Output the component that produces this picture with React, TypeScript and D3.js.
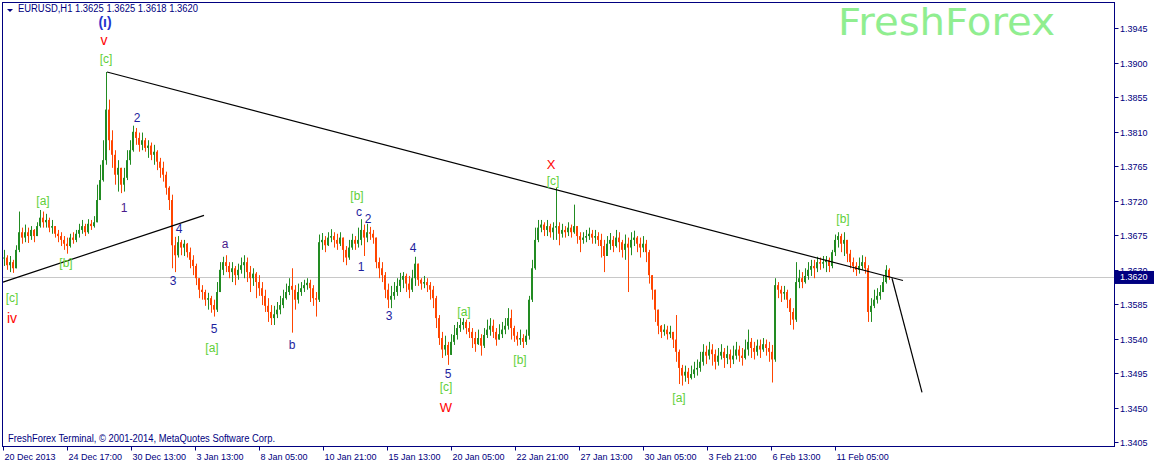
import { useEffect, useRef } from 'react'
import * as d3 from 'd3'

// EURUSD H1, 20 Dec 2013 - 13 Feb 2014.
// One candle here stands for 3 hourly bars; prices are stored as price x 10000.
const HOURS_PER_CANDLE = 3
const FIRST_OPEN = 13645

const highs = [
  13656, 13649, 13648, 13643, 13662, 13706, 13685, 13689, 13685, 13687, 13683, 13692,
  13708, 13706, 13703, 13698, 13695, 13687, 13682, 13679, 13674, 13672, 13677, 13679,
  13682, 13690, 13695, 13690, 13696, 13695, 13700, 13741, 13767, 13799, 13888, 13852,
  13812, 13786, 13773, 13760, 13763, 13786, 13799, 13818, 13815, 13809, 13809, 13802,
  13799, 13796, 13793, 13786, 13776, 13771, 13758, 13739, 13728, 13673, 13674, 13669,
  13669, 13665, 13659, 13649, 13638, 13619, 13610, 13604, 13600, 13596, 13591, 13614,
  13640, 13647, 13649, 13640, 13640, 13635, 13638, 13646, 13649, 13646, 13635, 13632,
  13627, 13623, 13614, 13604, 13593, 13584, 13583, 13588, 13596, 13604, 13612, 13619,
  13632, 13610, 13612, 13614, 13617, 13619, 13617, 13610, 13601, 13676, 13678, 13674,
  13679, 13683, 13679, 13677, 13679, 13672, 13661, 13669, 13677, 13674, 13685, 13696,
  13689, 13690, 13686, 13682, 13672, 13646, 13640, 13627, 13612, 13609, 13614, 13619,
  13626, 13627, 13625, 13622, 13630, 13647, 13630, 13619, 13622, 13619, 13614, 13609,
  13596, 13571, 13549, 13544, 13536, 13546, 13558, 13562, 13567, 13567, 13565, 13562,
  13554, 13549, 13552, 13546, 13554, 13565, 13567, 13565, 13554, 13559, 13562, 13567,
  13580, 13578, 13557, 13549, 13552, 13546, 13552, 13596, 13643, 13685, 13695, 13695,
  13692, 13695, 13690, 13692, 13737, 13692, 13690, 13687, 13692, 13689, 13715, 13687,
  13679, 13679, 13682, 13685, 13682, 13682, 13679, 13677, 13669, 13674, 13678, 13674,
  13682, 13679, 13669, 13676, 13672, 13679, 13681, 13674, 13672, 13674, 13669, 13656,
  13623, 13604, 13575, 13558, 13559, 13557, 13557, 13549, 13571, 13526, 13506, 13505,
  13502, 13505, 13510, 13513, 13523, 13533, 13531, 13536, 13533, 13526, 13528, 13533,
  13528, 13531, 13526, 13531, 13536, 13531, 13528, 13539, 13552, 13541, 13536, 13539,
  13539, 13541, 13539, 13536, 13532, 13619, 13614, 13609, 13609, 13604, 13593, 13580,
  13640, 13630, 13627, 13632, 13640, 13643, 13643, 13647, 13646, 13648, 13648, 13646,
  13656, 13676, 13679, 13677, 13679, 13669, 13656, 13646, 13640, 13646, 13649, 13647,
  13636, 13593, 13604, 13606, 13610, 13622, 13636, 13632
]

const lows = [
  13635, 13630, 13627, 13626, 13632, 13653, 13664, 13666, 13665, 13669, 13666, 13674,
  13685, 13685, 13685, 13679, 13677, 13672, 13666, 13661, 13656, 13651, 13659, 13664,
  13666, 13672, 13677, 13674, 13677, 13682, 13685, 13692, 13721, 13745, 13767, 13786,
  13763, 13741, 13732, 13730, 13732, 13747, 13767, 13784, 13793, 13784, 13786, 13784,
  13776, 13773, 13767, 13760, 13750, 13745, 13728, 13708, 13632, 13627, 13646, 13649,
  13648, 13646, 13632, 13623, 13610, 13593, 13591, 13583, 13578, 13574, 13569, 13575,
  13601, 13623, 13627, 13619, 13614, 13610, 13617, 13625, 13619, 13614, 13601, 13609,
  13593, 13596, 13584, 13575, 13562, 13558, 13558, 13567, 13572, 13580, 13591, 13597,
  13548, 13578, 13586, 13596, 13601, 13604, 13588, 13583, 13569, 13588, 13656, 13653,
  13661, 13666, 13659, 13656, 13661, 13640, 13636, 13643, 13656, 13656, 13659, 13662,
  13648, 13666, 13669, 13664, 13632, 13619, 13614, 13593, 13580, 13580, 13591, 13596,
  13601, 13606, 13601, 13593, 13601, 13609, 13609, 13604, 13606, 13601, 13591, 13580,
  13554, 13532, 13515, 13518, 13506, 13523, 13532, 13539, 13549, 13552, 13546, 13541,
  13528, 13523, 13532, 13518, 13528, 13541, 13544, 13541, 13531, 13539, 13541, 13546,
  13552, 13539, 13536, 13531, 13532, 13528, 13532, 13539, 13588, 13630, 13666, 13679,
  13674, 13674, 13672, 13669, 13669, 13662, 13672, 13672, 13674, 13672, 13677, 13664,
  13653, 13664, 13666, 13669, 13664, 13664, 13661, 13646, 13627, 13651, 13656, 13653,
  13659, 13653, 13646, 13643, 13601, 13649, 13661, 13653, 13646, 13653, 13640, 13612,
  13591, 13562, 13546, 13541, 13544, 13539, 13541, 13528, 13510, 13481, 13479, 13484,
  13481, 13487, 13489, 13492, 13497, 13505, 13507, 13513, 13505, 13500, 13505, 13513,
  13502, 13507, 13502, 13507, 13513, 13510, 13505, 13513, 13518, 13515, 13513, 13518,
  13515, 13523, 13518, 13510, 13483, 13510, 13593, 13588, 13591, 13580, 13558, 13552,
  13562, 13606, 13606, 13612, 13617, 13622, 13619, 13627, 13630, 13632, 13627, 13627,
  13632, 13648, 13659, 13653, 13648, 13640, 13632, 13627, 13622, 13625, 13630, 13625,
  13562, 13562, 13580, 13586, 13591, 13601, 13612, 13617
]

const closes = [
  13646, 13636, 13640, 13632, 13656, 13679, 13672, 13679, 13674, 13682, 13674, 13687,
  13698, 13692, 13695, 13685, 13687, 13677, 13674, 13669, 13664, 13661, 13672, 13669,
  13677, 13682, 13687, 13679, 13690, 13687, 13692, 13721, 13747, 13773, 13839, 13799,
  13780, 13754, 13763, 13741, 13750, 13773, 13786, 13810, 13802, 13793, 13799, 13789,
  13792, 13780, 13784, 13771, 13763, 13754, 13737, 13721, 13662, 13649, 13666, 13659,
  13664, 13653, 13643, 13635, 13619, 13604, 13601, 13591, 13593, 13584, 13578, 13601,
  13630, 13640, 13635, 13627, 13632, 13623, 13630, 13636, 13640, 13627, 13619, 13625,
  13614, 13606, 13596, 13583, 13575, 13567, 13572, 13578, 13584, 13593, 13601, 13609,
  13604, 13591, 13601, 13606, 13610, 13613, 13606, 13593, 13591, 13666, 13669, 13662,
  13672, 13674, 13669, 13664, 13672, 13656, 13646, 13659, 13669, 13664, 13669, 13682,
  13672, 13679, 13677, 13672, 13640, 13632, 13623, 13604, 13591, 13596, 13601, 13609,
  13617, 13622, 13612, 13604, 13619, 13638, 13617, 13612, 13614, 13610, 13604, 13593,
  13567, 13541, 13526, 13532, 13519, 13536, 13545, 13554, 13558, 13562, 13554, 13549,
  13541, 13533, 13541, 13531, 13545, 13552, 13557, 13549, 13539, 13546, 13552, 13557,
  13567, 13554, 13544, 13539, 13541, 13536, 13544, 13591, 13632, 13669, 13685, 13689,
  13682, 13687, 13679, 13685, 13687, 13677, 13682, 13679, 13685, 13679, 13687, 13674,
  13669, 13672, 13674, 13677, 13672, 13674, 13669, 13661, 13648, 13664, 13669, 13661,
  13672, 13666, 13656, 13664, 13659, 13669, 13672, 13664, 13659, 13664, 13653, 13623,
  13604, 13578, 13557, 13549, 13552, 13546, 13549, 13539, 13523, 13502, 13492, 13497,
  13489, 13494, 13500, 13502, 13510, 13523, 13518, 13526, 13520, 13510, 13518, 13523,
  13515, 13520, 13513, 13518, 13526, 13518, 13515, 13526, 13536, 13528, 13523, 13531,
  13526, 13533, 13528, 13523, 13513, 13610, 13604, 13599, 13601, 13591, 13575, 13565,
  13614, 13619, 13614, 13622, 13630, 13635, 13632, 13640, 13638, 13640, 13643, 13635,
  13653, 13669, 13674, 13664, 13669, 13651, 13640, 13635, 13630, 13635, 13640, 13632,
  13575, 13583, 13591, 13596, 13601, 13614, 13630, 13620
]

const priceTicks = [1.3945, 1.39, 1.3855, 1.381, 1.3765, 1.372, 1.3675, 1.363, 1.3585, 1.354, 1.3495, 1.345, 1.3405]
const lastPrice = 1.362

const timeLabels = [
  '20 Dec 2013', '24 Dec 17:00', '30 Dec 13:00', '3 Jan 13:00', '8 Jan 05:00', '10 Jan 21:00', '15 Jan 13:00',
  '20 Jan 05:00', '22 Jan 21:00', '27 Jan 13:00', '30 Jan 05:00', '3 Feb 21:00', '6 Feb 13:00', '11 Feb 05:00'
]
// hourly bar index of each time label
const timeLabelBars = [0, 64, 128, 192, 256, 320, 384, 448, 512, 576, 640, 704, 768, 832]

// trend lines: [bar, price] pairs
const trendLines = [
  [[104, 1.3888], [900, 1.3616]],
  [[0, 1.3614], [201, 1.3701]],
  [[889, 1.3619], [919, 1.347]]
]

const GREEN = '#5fcf3a'
const RED = '#ff0000'
const NAVY = '#1e1e9e'
const PURPLE = '#4a1a8c'

// wave labels: text, bar, price, colour, size
const waveLabels: [string, number, number, string, number][] = [
  ['v', 101, 1.3930, RED, 14],
  ['[c]', 103, 1.3905, GREEN, 12],
  ['2', 134, 1.3828, NAVY, 12],
  ['1', 121, 1.3711, PURPLE, 12],
  ['[a]', 40, 1.3720, GREEN, 12],
  ['[b]', 63, 1.3639, GREEN, 12],
  ['[c]', 9, 1.3593, GREEN, 12],
  ['iv', 9, 1.3567, RED, 14],
  ['4', 176, 1.3683, NAVY, 12],
  ['3', 170, 1.3616, NAVY, 12],
  ['5', 211, 1.3553, NAVY, 12],
  ['[a]', 209, 1.3528, GREEN, 12],
  ['a', 222, 1.3664, PURPLE, 12],
  ['b', 289, 1.3532, NAVY, 12],
  ['[b]', 354, 1.3726, GREEN, 12],
  ['c', 356, 1.3706, NAVY, 12],
  ['2', 365, 1.3696, NAVY, 12],
  ['1', 358, 1.3634, NAVY, 12],
  ['4', 410, 1.3659, NAVY, 12],
  ['3', 386, 1.3570, NAVY, 12],
  ['[a]', 461, 1.3575, GREEN, 12],
  ['5', 445, 1.3494, NAVY, 12],
  ['[c]', 443, 1.3477, GREEN, 12],
  ['W', 443, 1.3451, RED, 13],
  ['[b]', 517, 1.3513, GREEN, 12],
  ['X', 548, 1.3768, RED, 13],
  ['[c]', 550, 1.3746, GREEN, 12],
  ['[a]', 676, 1.3463, GREEN, 12],
  ['[b]', 840, 1.3696, GREEN, 12]
]

const FONT = "'Liberation Sans', Arial, sans-serif"

export default function App() {
  const chartRef = useRef<SVGSVGElement | null>(null)

  useEffect(() => {
    if (!chartRef.current) return
    const svg = d3.select(chartRef.current)
    svg.selectAll('*').remove()

    const width = 1154
    const height = 465
    const plot = { left: 2.5, right: 1114.5, top: 2.5, bottom: 446.5 }

    const x = d3.scaleLinear().domain([0, 1111]).range([3, 1114])
    const y = d3.scaleLinear().domain([1.3405, 1.3945]).range([442.3, 28.3])

    const candles = closes.map((c, i) => ({
      bar: 1 + i * HOURS_PER_CANDLE,
      open: (i === 0 ? FIRST_OPEN : closes[i - 1]) / 10000,
      high: highs[i] / 10000,
      low: lows[i] / 10000,
      close: c / 10000
    }))

    svg.attr('width', width).attr('height', height)
    svg.append('rect').attr('width', width).attr('height', height).attr('fill', '#ffffff')

    // current price line
    svg
      .append('line')
      .attr('x1', plot.left)
      .attr('x2', plot.right)
      .attr('y1', Math.round(y(lastPrice)) + 0.5)
      .attr('y2', Math.round(y(lastPrice)) + 0.5)
      .attr('stroke', '#c8c8c8')

    // watermark
    svg
      .append('text')
      .attr('x', 838)
      .attr('y', 35)
      .attr('fill', '#90ee90')
      .attr('textLength', 217)
      .attr('lengthAdjust', 'spacingAndGlyphs')
      .style('font-family', "'DejaVu Sans', sans-serif")
      .style('font-size', '38px')
      .text('FreshForex')

    const colorOf = (d: (typeof candles)[0]) =>
      d.close > d.open ? '#228b22' : d.close < d.open ? '#ff4500' : '#000000'

    // wicks
    svg
      .append('g')
      .selectAll('line')
      .data(candles)
      .enter()
      .append('line')
      .attr('x1', d => Math.round(x(d.bar)) + 0.5)
      .attr('x2', d => Math.round(x(d.bar)) + 0.5)
      .attr('y1', d => y(Math.max(d.high, d.open, d.close)))
      .attr('y2', d => y(Math.min(d.low, d.open, d.close)))
      .attr('stroke', colorOf)
      .attr('stroke-width', 1)

    // bodies
    svg
      .append('g')
      .selectAll('rect')
      .data(candles)
      .enter()
      .append('rect')
      .attr('x', d => Math.round(x(d.bar)) - 1)
      .attr('width', 2)
      .attr('y', d => y(Math.max(d.open, d.close)))
      .attr('height', d => Math.max(1, y(Math.min(d.open, d.close)) - y(Math.max(d.open, d.close))))
      .attr('fill', colorOf)

    // trend lines
    const line = d3
      .line<number[]>()
      .x(d => x(d[0]))
      .y(d => y(d[1]))
    trendLines.forEach(pts => {
      svg
        .append('path')
        .attr('d', line(pts))
        .attr('fill', 'none')
        .attr('stroke', '#000000')
        .attr('stroke-width', 1.2)
    })

    // wave labels
    svg
      .append('g')
      .selectAll('text')
      .data(waveLabels)
      .enter()
      .append('text')
      .attr('x', d => x(d[1]))
      .attr('y', d => y(d[2]))
      .attr('text-anchor', 'middle')
      .attr('dominant-baseline', 'central')
      .attr('fill', d => d[3])
      .style('font-family', FONT)
      .style('font-size', d => `${d[4]}px`)
      .text(d => d[0])

    // (i) at the top, just under the header
    svg
      .append('text')
      .attr('x', x(102))
      .attr('y', y(1.3953))
      .attr('text-anchor', 'middle')
      .attr('dominant-baseline', 'central')
      .attr('fill', '#2233cc')
      .style('font-family', FONT)
      .style('font-size', '14px')
      .style('font-weight', 'bold')
      .text('(ı)')

    // frame
    svg
      .append('rect')
      .attr('x', plot.left)
      .attr('y', plot.top)
      .attr('width', plot.right - plot.left)
      .attr('height', plot.bottom - plot.top)
      .attr('fill', 'none')
      .attr('stroke', '#000080')

    // price axis
    const yAxis = svg.append('g')
    priceTicks.forEach(p => {
      const py = Math.round(y(p)) + 0.5
      yAxis.append('line').attr('x1', plot.right).attr('x2', plot.right + 4).attr('y1', py).attr('y2', py).attr('stroke', '#000080')
      yAxis
        .append('text')
        .attr('x', 1120)
        .attr('y', py)
        .attr('dominant-baseline', 'central')
        .attr('fill', '#000080')
        .style('font-family', FONT)
        .style('font-size', '9px')
        .text(d3.format('.4f')(p))
    })

    // current price tag (covers part of the 1.3630 label, as in the terminal)
    const ly = y(lastPrice)
    svg.append('rect').attr('x', 1115).attr('y', ly - 6.5).attr('width', 39).attr('height', 13).attr('fill', '#000080')
    svg
      .append('text')
      .attr('x', 1120)
      .attr('y', ly)
      .attr('dominant-baseline', 'central')
      .attr('fill', '#ffffff')
      .style('font-family', FONT)
      .style('font-size', '9px')
      .text(d3.format('.4f')(lastPrice))

    // time axis
    const xAxis = svg.append('g')
    timeLabels.forEach((t, i) => {
      const tx = Math.round(x(timeLabelBars[i])) + 0.5
      xAxis.append('line').attr('x1', tx).attr('x2', tx).attr('y1', plot.bottom).attr('y2', plot.bottom + 4).attr('stroke', '#000080')
      xAxis
        .append('text')
        .attr('x', tx + 1)
        .attr('y', 460)
        .attr('fill', '#000080')
        .style('font-family', FONT)
        .style('font-size', '9px')
        .text(t)
    })

    // header and footer
    svg.append('path').attr('d', 'M7,9 L13,9 L10,12 Z').attr('fill', '#000080')
    svg
      .append('text')
      .attr('x', 18)
      .attr('y', 12)
      .attr('fill', '#000080')
      .attr('textLength', 180)
      .attr('lengthAdjust', 'spacingAndGlyphs')
      .style('font-family', FONT)
      .style('font-size', '10px')
      .text('EURUSD,H1  1.3625 1.3625 1.3618 1.3620')
    svg
      .append('text')
      .attr('x', 8)
      .attr('y', 442)
      .attr('fill', '#000080')
      .attr('textLength', 267)
      .attr('lengthAdjust', 'spacingAndGlyphs')
      .style('font-family', FONT)
      .style('font-size', '10px')
      .text('FreshForex Terminal, © 2001-2014, MetaQuotes Software Corp.')
  }, [])

  return (
    <div style={{ position: 'absolute', left: 0, top: 0 }}>
      <svg ref={chartRef} style={{ display: 'block' }}></svg>
    </div>
  )
}
